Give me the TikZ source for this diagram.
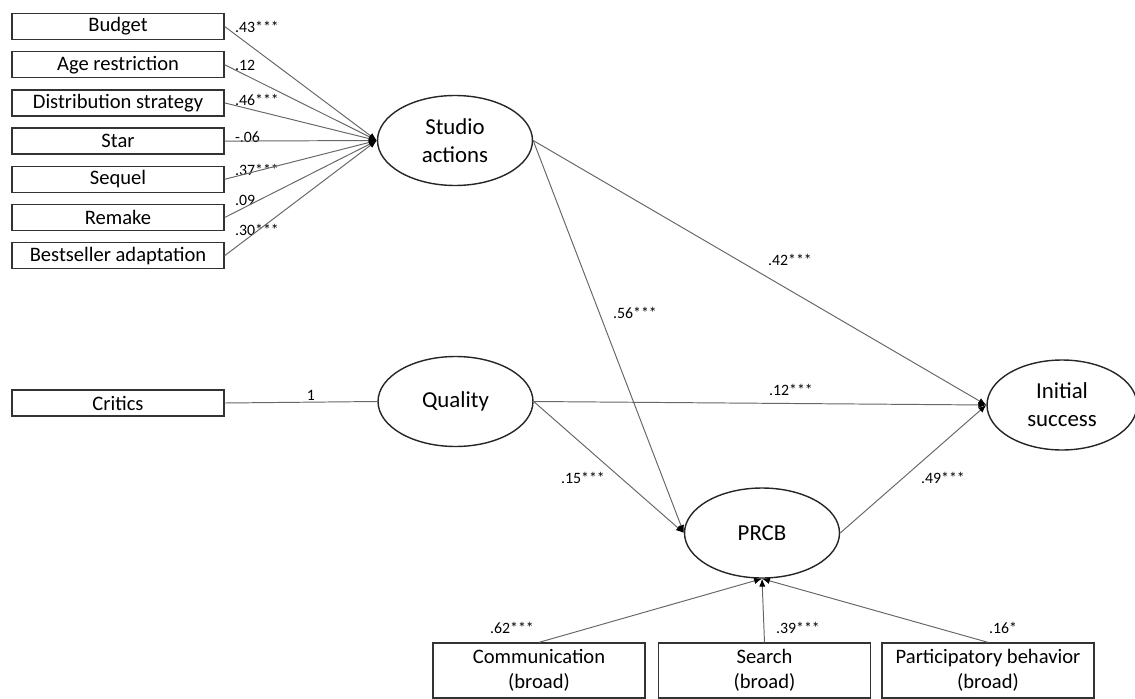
\documentclass[tikz,border=0pt]{standalone}
\usepackage{fontspec}
\setmainfont{Carlito}
\usepackage{tikz}
\usetikzlibrary{calc}
\usetikzlibrary{arrows.meta}
\usetikzlibrary{shapes.geometric}
\tikzset{
  obsbox/.style={draw=black!80, line width=0.75pt, minimum width=4.24cm, minimum height=0.52cm, inner sep=0pt, font=\fontsize{11.7}{14.2}\selectfont},
  widebox/.style={obsbox, minimum height=1.1cm, align=center},
  latent/.style={ellipse, draw=black!85, line width=0.8pt, minimum width=3.1cm, minimum height=1.8cm, inner sep=0pt, align=center, font=\fontsize{13}{16}\selectfont},
  link/.style={draw=black!60, line width=0.55pt, -{Latex[length=4.5pt,width=3.6pt,black]}},
  coef/.style={font=\fontsize{9}{11}\selectfont, inner sep=1pt}
}

\begin{document}
\begin{tikzpicture}[x=0.02cm, y=-0.02cm]
\useasboundingbox (0,0) rectangle (1135,699);
\node[latent] (studio) at (455,140.5) {Studio\\actions};
\node[latent] (quality) at (455.5,401.5) {Quality};
\node[latent, minimum width=3cm] (initial) at (1062,405) {Initial\\success};
\node[latent] (prcb) at (762,533) {PRCB};
\foreach \i/\txt/\w/\ly in {1/Budget/.43***/27, 2/Age restriction/.12/65, 3/Distribution strategy/.46***/100, 4/Star/-.06/137, 5/Sequel/.37***/170, 6/Remake/.09/200, 7/Bestseller adaptation/.30***/230} {
  \node[obsbox] (b\i) at (118,{26.5+38.2*(\i-1)}) {\txt};
  \node[coef, anchor=west] (c\i) at (233,\ly) {\w};
  \draw[link] (b\i.east) -- (studio.west);
}
\node[obsbox] (critics) at (118,403) {Critics};
\draw[link,-] (critics.east) -- (quality.west);
\node[coef] (c8) at (311,395) {1};
\foreach \n/\x/\txt/\w/\lx in {comm/539/Communication/.62***/512, search/764.5/Search/.39***/798, part/988/Participatory behavior/.16*/1003} {
  \node[widebox] (\n) at (\x,670.5) {\txt\\(broad)};
  \node[coef] (c\n) at (\lx,628) {\w};
  \draw[link] (\n.north) -- (prcb.south);
}
\draw[link] (studio.east) -- (initial.west);
\draw[link] (studio.east) -- (prcb.west);
\draw[link] (quality.east) -- (initial.west);
\draw[link] (quality.east) -- (prcb.west);
\draw[link] (prcb.east) -- (initial.west);
\node[coef] (c42) at (790,260) {.42***};
\node[coef] (c56) at (635,313) {.56***};
\node[coef] (c12) at (791,390) {.12***};
\node[coef] (c15) at (583,478) {.15***};
\node[coef] (c49) at (943,478) {.49***};
\end{tikzpicture}
\end{document}
